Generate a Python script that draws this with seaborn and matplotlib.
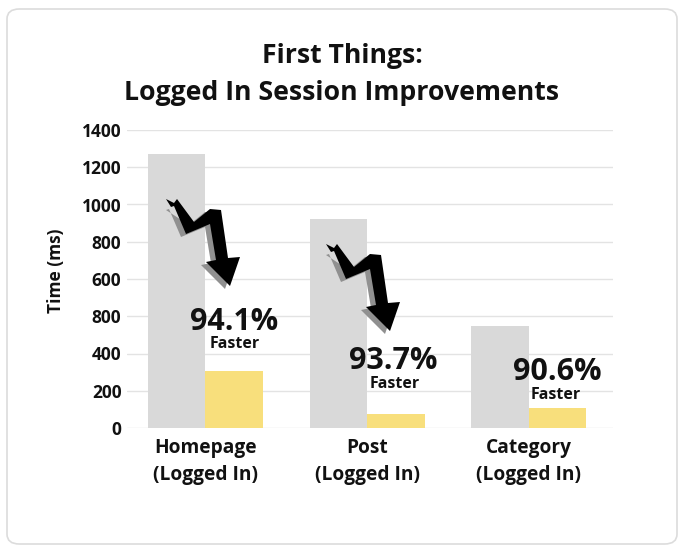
import matplotlib
matplotlib.use("Agg")
import matplotlib.pyplot as plt
from matplotlib.patches import Polygon, FancyBboxPatch
import seaborn as sns
import pandas as pd

# ---- data ----
categories = ["Homepage\n(Logged In)", "Post\n(Logged In)", "Category\n(Logged In)"]
before_ms = [1471, 1120, 548]
after_ms = [308, 75, 109]
series_names = ["Before", "After"]
improvements = ["94.1%", "93.7%", "90.6%"]
ytick_values = [0, 200, 400, 600, 800, 1000, 1200, 1400, 1600]
ytick_labels = ["0", "200", "400", "800", "600", "800", "1000", "1200", "1400"]

df = pd.DataFrame({
    "category": categories * 2,
    "time": before_ms + after_ms,
    "series": [series_names[0]] * 3 + [series_names[1]] * 3,
})

sns.set_theme(style="white")
plt.rcParams["font.family"] = ["Open Sans", "DejaVu Sans"]

W, H = 685, 551
fig = plt.figure(figsize=(W / 100, H / 100), dpi=100)
fig.patch.set_facecolor("white")

def px(x, y):
    return (x / W, 1 - y / H)

# rounded border
border = FancyBboxPatch(px(7, 544), (677 - 7) / W, (544 - 9) / H,
                        boxstyle="round,pad=0,rounding_size=0.018",
                        transform=fig.transFigure, facecolor="white",
                        edgecolor="#dcdcdc", linewidth=1.2, zorder=-5)
fig.patches.append(border)

ax = fig.add_axes([127 / W, (551 - 428) / H, (613 - 127) / W, (428 - 130) / H])
ax.set_facecolor("none")
ax.set_zorder(1)

sns.barplot(data=df, x="category", y="time", hue="series",
            palette=["#d9d9d9", "#f8df7c"], saturation=1, width=0.71, gap=0,
            linewidth=0, legend=False, ax=ax, zorder=2)

ax.set_xlim(-0.485, 2.52)
ax.set_ylim(0, 1600)
ax.set_yticks(ytick_values)
ax.set_yticklabels(ytick_labels, fontsize=12.5, fontweight="bold", color="#111111")
ax.set_xticks(range(len(categories)))
ax.set_xticklabels(categories, fontsize=13.8, fontweight="bold", color="#111111",
                   linespacing=1.5)
ax.tick_params(axis="y", length=0, pad=4)
ax.tick_params(axis="x", length=0, pad=7)
ax.set_xlabel("")
ax.set_ylabel("Time (ms)", fontsize=12.5, fontweight="bold", color="#111111")
ax.yaxis.set_label_coords(-0.128, 0.527)
ax.yaxis.grid(True, color="#e3e3e3", linewidth=1, zorder=0)
ax.set_axisbelow(True)
for s in ax.spines.values():
    s.set_visible(False)

# title
fig.text(*px(342, 63), "First Things:", ha="center", va="baseline",
         fontsize=19.2, fontweight="bold", color="#111111")
fig.text(*px(342, 100), "Logged In Session Improvements", ha="center",
         va="baseline", fontsize=19.2, fontweight="bold", color="#111111")

# lightning arrows (decoration)
arrow_shape = [(166, 199), (174, 203), (177, 199), (194, 222), (210, 209), (221, 210),
               (228, 258), (240, 257), (230, 286), (206, 262), (216, 260), (210, 224),
               (186, 234), (174, 206), (171, 207)]
for dx, dy in [(0, 0), (160, 45)]:
    shadow = [px(x + dx - 5, y + dy + 3) for x, y in arrow_shape[3:]]
    fig.patches.append(Polygon(shadow, closed=True, transform=fig.transFigure,
                               facecolor="#909090", edgecolor="none", zorder=5))
    main = [px(x + dx, y + dy) for x, y in arrow_shape]
    fig.patches.append(Polygon(main, closed=True, transform=fig.transFigure,
                               facecolor="#000000", edgecolor="none", zorder=6))

# annotations
pct_pos = [(234, 330), (393, 369), (557, 380)]
fast_pos = [(235, 348), (395, 388), (556, 399)]
for label, (x1, y1), (x2, y2) in zip(improvements, pct_pos, fast_pos):
    fig.text(*px(x1, y1), label, ha="center", va="baseline", fontsize=22,
             fontweight="bold", color="#111111", zorder=7)
    fig.text(*px(x2, y2), "Faster", ha="center", va="baseline", fontsize=11.5,
             fontweight="bold", color="#111111", zorder=7)

fig.savefig("out.png", dpi=100)
